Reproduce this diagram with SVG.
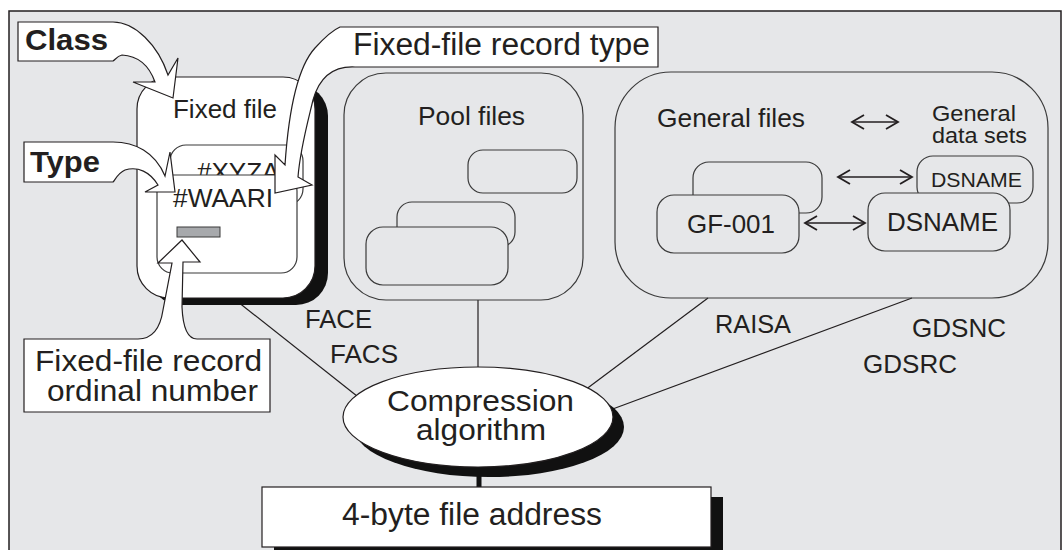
<svg xmlns="http://www.w3.org/2000/svg" width="1062" height="550" viewBox="0 0 1062 550">
<defs>
<style>
text{font-family:"Liberation Sans",Arial,sans-serif;fill:#231f20}
.t26{font-size:26px}
.t31{font-size:31px}
.t29{font-size:29px}
.b30{font-size:30px;font-weight:bold}
.box{fill:#fff;stroke:#231f20;stroke-width:1.2}
.ol{fill:none;stroke:#3a3a3a;stroke-width:1.2}
.ow{fill:#e6e7e9;stroke:#3a3a3a;stroke-width:1.2}
.wf{fill:#fff;stroke:#3a3a3a;stroke-width:1.2}
.sh{fill:#111}
.ln{stroke:#231f20;stroke-width:1.2;fill:none}
.da{stroke:#231f20;stroke-width:1.6;fill:none;marker-start:url(#chev);marker-end:url(#chev)}
</style>
<marker id="chev" markerUnits="userSpaceOnUse" markerWidth="20" markerHeight="20" viewBox="-15 -10 20 20" refX="0" refY="0" orient="auto-start-reverse" overflow="visible">
<path d="M-12,-7 L0,0 L-12,7" fill="none" stroke="#231f20" stroke-width="1.8"/>
</marker>
<clipPath id="xyclip"><rect x="170" y="145" width="133" height="30"/></clipPath>
</defs>
<rect x="0" y="0" width="1062" height="550" fill="#fff"/>
<rect x="9" y="11" width="1052" height="545" fill="#e6e7e9" stroke="#231f20" stroke-width="1.5"/>

<g id="connectors">
<line class="ln" x1="233" y1="298" x2="362" y2="400"/>
<line class="ln" x1="478" y1="300" x2="478" y2="370"/>
<line class="ln" x1="708" y1="298" x2="585" y2="390"/>
<line class="ln" x1="912" y1="298" x2="610" y2="410"/>
<line x1="479" y1="462" x2="479" y2="490" stroke="#111" stroke-width="5"/>
<path class="da" d="M852,122 H898"/>
<path class="da" d="M838,177 H912"/>
<path class="da" d="M805,223 H865"/>
</g>

<g id="fixed-file">
<rect class="sh" x="149" y="84" width="179" height="221" rx="32"/>
<rect class="box" x="137" y="77" width="178" height="221" rx="32"/>
<text class="t26" x="173" y="118" textLength="104" lengthAdjust="spacingAndGlyphs">Fixed file</text>
</g>
<g id="record-xyzab">
<rect class="wf" x="170" y="145" width="133" height="60" rx="16"/>
<text class="t26" x="197" y="181" clip-path="url(#xyclip)">#XYZAB</text>
</g>
<g id="record-waari">
<rect class="wf" x="157" y="175" width="140" height="98" rx="16"/>
<text class="t26" x="173" y="207" textLength="100" lengthAdjust="spacingAndGlyphs">#WAARI</text>
<rect x="177" y="227" width="43" height="10" fill="#a7a9ac" stroke="#3a3a3a" stroke-width="1"/>
</g>

<g id="pool-files">
<rect class="ol" x="344" y="73" width="239" height="227" rx="42"/>
<text class="t26" x="418" y="125" textLength="107" lengthAdjust="spacingAndGlyphs">Pool files</text>
<rect class="ol" x="468" y="150" width="109" height="43" rx="15"/>
<rect class="ow" x="397" y="202" width="118" height="45" rx="15"/>
<rect class="ow" x="366" y="227" width="142" height="58" rx="17"/>
</g>

<g id="general-files">
<rect class="ol" x="615" y="72" width="433" height="226" rx="56"/>
<text class="t26" x="657" y="127" textLength="148" lengthAdjust="spacingAndGlyphs">General files</text>
<text x="932" y="121" font-size="22" textLength="84" lengthAdjust="spacingAndGlyphs">General</text>
<text x="932" y="143" font-size="22" textLength="95" lengthAdjust="spacingAndGlyphs">data sets</text>
</g>
<g id="gf-back"><rect class="ow" x="693" y="162" width="129" height="51" rx="16"/></g>
<g id="gf-001">
<rect class="ow" x="657" y="195" width="142" height="58" rx="17"/>
<text class="t26" x="687" y="233" textLength="88" lengthAdjust="spacingAndGlyphs">GF-001</text>
</g>
<g id="dsname-back">
<rect class="ow" x="917" y="156" width="116" height="47" rx="16"/>
<text x="931" y="187" font-size="21" textLength="91" lengthAdjust="spacingAndGlyphs">DSNAME</text>
</g>
<g id="dsname">
<rect class="ow" x="868" y="193" width="142" height="58" rx="17"/>
<text class="t26" x="887" y="231" textLength="111" lengthAdjust="spacingAndGlyphs">DSNAME</text>
</g>

<g id="labels">
<text x="305" y="328" font-size="25" textLength="67" lengthAdjust="spacingAndGlyphs">FACE</text>
<text x="330" y="363" font-size="25" textLength="68" lengthAdjust="spacingAndGlyphs">FACS</text>
<text x="715" y="333" font-size="25" textLength="76" lengthAdjust="spacingAndGlyphs">RAISA</text>
<text x="912" y="337" font-size="26" textLength="94" lengthAdjust="spacingAndGlyphs">GDSNC</text>
<text x="863" y="373" font-size="26" textLength="94" lengthAdjust="spacingAndGlyphs">GDSRC</text>
</g>

<g id="compression">
<ellipse class="sh" cx="489" cy="427" rx="135" ry="50"/>
<ellipse class="box" cx="478" cy="417" rx="135" ry="50"/>
<text class="t29" x="387" y="411" textLength="187" lengthAdjust="spacingAndGlyphs">Compression</text>
<text class="t29" x="416" y="440" textLength="130" lengthAdjust="spacingAndGlyphs">algorithm</text>
</g>

<g id="address">
<rect class="sh" x="274" y="497" width="449" height="70"/>
<rect class="box" x="262" y="487" width="449" height="60"/>
<text class="t31" x="342" y="525" textLength="260" lengthAdjust="spacingAndGlyphs">4-byte file address</text>
</g>

<g id="class-callout">
<path class="box" d="M18,22 H113 C135,22 158,45 168,75 L178,58 L173,98 L133,82 L155,82 C150,68 140,56 122,55 C117,56 115,60 113,61 H18 Z"/>
<text class="b30" x="25" y="50" textLength="83" lengthAdjust="spacingAndGlyphs">Class</text>
</g>
<g id="type-callout">
<path class="box" d="M24,142 H113 C135,142 155,152 165,176 L170,152 L175,192 L145,192 L158,185 C150,172 138,166 125,170 C118,173 115,180 113,182 H24 Z"/>
<text class="b30" x="30" y="172" textLength="70" lengthAdjust="spacingAndGlyphs">Type</text>
</g>
<g id="record-type-callout">
<path class="box" d="M340,27 H658 V67 H355 C335,66 320,75 313,100 C307,125 300,150 298,177 L312,185 L275,193 L275,155 L285,165 C288,120 295,70 315,48 C325,37 333,30 340,27 Z"/>
<text class="t31" x="353" y="55" textLength="297" lengthAdjust="spacingAndGlyphs">Fixed-file record type</text>
</g>
<g id="ordinal-callout">
<path class="box" d="M24,339 H138 C152,339 160,330 163,310 L172,263 L158,263 L182,240 L200,262 L183,262 L182,307 C183,330 188,339 197,339 H270 V412 H24 Z"/>
<text class="t29" x="35" y="371" textLength="227" lengthAdjust="spacingAndGlyphs">Fixed-file record</text>
<text class="t29" x="47" y="401" textLength="211" lengthAdjust="spacingAndGlyphs">ordinal number</text>
</g>
</svg>
